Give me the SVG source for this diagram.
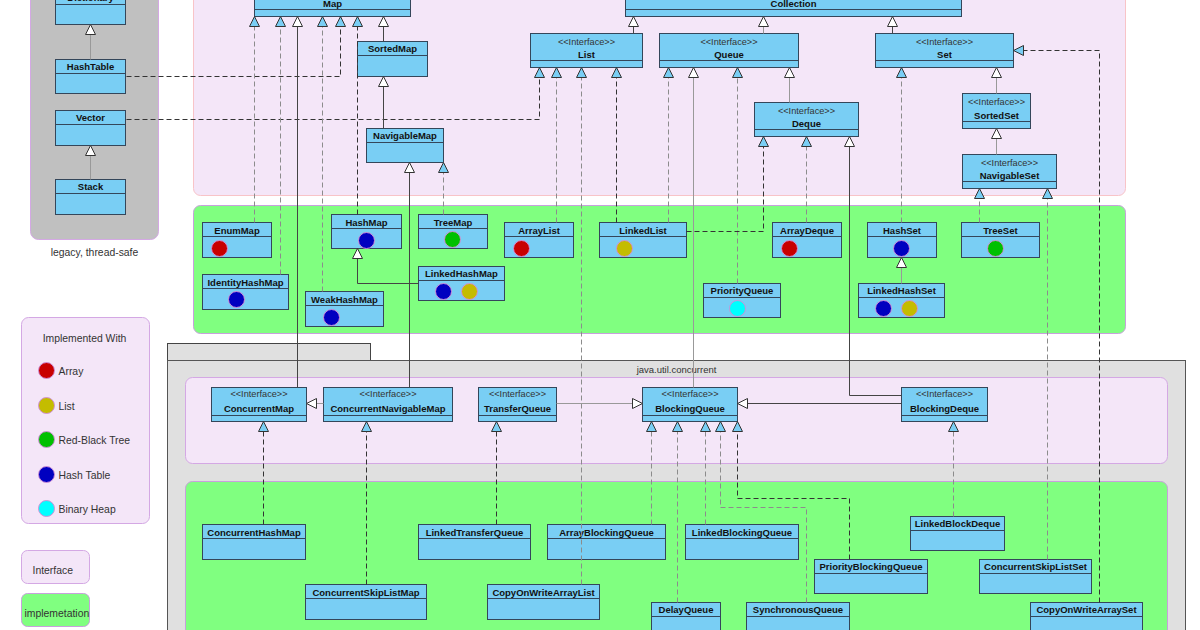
<svg xmlns="http://www.w3.org/2000/svg" width="1200" height="630" viewBox="0 0 1200 630">
<style>
.n{fill:#79cef4;stroke:#34465a;stroke-width:1}
.sp{stroke:#34465a;stroke-width:1}
.t{font-family:"Liberation Sans",Arial,sans-serif;font-weight:bold;font-size:9.5px;fill:#111;text-anchor:middle}
.s{font-family:"Liberation Sans",Arial,sans-serif;font-size:9.2px;fill:#333;text-anchor:middle}
.lg{font-family:"Liberation Sans",Arial,sans-serif;font-size:10.4px;fill:#333}
.c{stroke:#d090d8;stroke-width:1}
.cr{fill:#c80000}.co{fill:#c4bc00}.cg{fill:#00c000}.cb{fill:#0000c0}.cc{fill:#00ffff}
.e{fill:none;stroke-width:1}
.gd{stroke:#8c8c8c;stroke-dasharray:5,3}
.bd{stroke:#333;stroke-dasharray:5,3}
.gs{stroke:#999}
.bs{stroke:#444}
.real{marker-end:url(#mi)}
.gen{marker-end:url(#mg)}
</style>
<defs>
<marker id="mi" markerUnits="userSpaceOnUse" markerWidth="14" markerHeight="14" viewBox="-2 -2 14 14" refX="10" refY="5" orient="auto"><path d="M0,0 L10,5 L0,10 Z" fill="#79cef4" stroke="#333" stroke-width="1"/></marker>
<marker id="mg" markerUnits="userSpaceOnUse" markerWidth="14" markerHeight="14" viewBox="-2 -2 14 14" refX="10" refY="5" orient="auto"><path d="M0,0 L10,5 L0,10 Z" fill="#ffffff" stroke="#333" stroke-width="1"/></marker>
</defs>
<rect x="0" y="0" width="1200" height="630" fill="#ffffff"/>
<g transform="translate(0.5,0.5)">
<g id="areas">
<rect x="30" y="-20" width="128" height="259" rx="8" fill="#c0c0c0" stroke="#d4a8e4"/>
<text class="lg" x="94" y="255" text-anchor="middle">legacy, thread-safe</text>
<rect x="193" y="-20" width="932" height="215" rx="7" fill="#f4e6f8" stroke="#f8c4c8"/>
<rect x="193" y="205" width="932" height="128" rx="7" fill="#80ff80" stroke="#c8a0dc"/>
<rect x="167" y="343" width="203" height="17" fill="#e0e0e0" stroke="#444"/>
<rect x="167" y="360" width="1018" height="290" fill="#e0e0e0" stroke="#555"/>
<text x="676" y="372" text-anchor="middle" style="font-family:'Liberation Sans',Arial,sans-serif;font-size:9.5px;fill:#333">java.util.concurrent</text>
<rect x="185" y="377" width="982" height="86" rx="7" fill="#f4e6f8" stroke="#d4a8e4"/>
<rect x="185" y="481" width="982" height="170" rx="7" fill="#80ff80" stroke="#c8a0dc"/>
</g>
<g id="legend">
<rect x="21" y="317" width="128" height="206" rx="7" fill="#f4e6f8" stroke="#d4a8e4"/>
<text class="lg" x="84" y="341" text-anchor="middle">Implemented With</text>
<circle class="c cr" cx="46" cy="370" r="8"/><text class="lg" x="58" y="374">Array</text>
<circle class="c co" cx="46" cy="405" r="8"/><text class="lg" x="58" y="409">List</text>
<circle class="c cg" cx="46" cy="439" r="8"/><text class="lg" x="58" y="443">Red-Black Tree</text>
<circle class="c cb" cx="46" cy="474" r="8"/><text class="lg" x="58" y="478">Hash Table</text>
<circle class="c cc" cx="46" cy="508" r="8"/><text class="lg" x="58" y="512">Binary Heap</text>
<rect x="21" y="550" width="68" height="33" rx="6" fill="#f4e6f8" stroke="#d4a8e4"/>
<text class="lg" x="32" y="573">Interface</text>
<rect x="21" y="593" width="68" height="33" rx="6" fill="#80ff80" stroke="#c8a0dc"/>
<text class="lg" x="24" y="616">implemetation</text>
</g>

<g id="Dictionary"><rect class="n" x="55" y="-10" width="70" height="34"/><line class="sp" x1="55" y1="4" x2="125" y2="4"/><text class="t" x="90" y="0.5">Dictionary</text></g>
<g id="HashTable"><rect class="n" x="55" y="59" width="70" height="34"/><line class="sp" x1="55" y1="73" x2="125" y2="73"/><text class="t" x="90" y="69.5">HashTable</text></g>
<g id="Vector"><rect class="n" x="55" y="110" width="70" height="35"/><line class="sp" x1="55" y1="124" x2="125" y2="124"/><text class="t" x="90" y="120.5">Vector</text></g>
<g id="Stack"><rect class="n" x="55" y="179" width="70" height="35"/><line class="sp" x1="55" y1="193" x2="125" y2="193"/><text class="t" x="90" y="189.5">Stack</text></g>

<g id="Map"><rect class="n" x="254" y="-18" width="156" height="34"/><line class="sp" x1="254" y1="9" x2="410" y2="9"/><text class="t" x="332" y="6.5">Map</text></g>
<g id="Collection"><rect class="n" x="625" y="-18" width="336" height="34"/><line class="sp" x1="625" y1="9" x2="961" y2="9"/><text class="t" x="793" y="6.5">Collection</text></g>
<g id="SortedMap"><rect class="n" x="357" y="41" width="70" height="35"/><line class="sp" x1="357" y1="55" x2="427" y2="55"/><text class="t" x="392" y="51.5">SortedMap</text></g>
<g id="NavigableMap"><rect class="n" x="366" y="128" width="77" height="34"/><line class="sp" x1="366" y1="142" x2="443" y2="142"/><text class="t" x="404.5" y="138.5">NavigableMap</text></g>
<g id="List"><rect class="n" x="530" y="33" width="112" height="34"/><line class="sp" x1="530" y1="60" x2="642" y2="60"/><text class="s" x="586" y="44">&lt;&lt;Interface&gt;&gt;</text><text class="t" x="586" y="57.5">List</text></g>
<g id="Queue"><rect class="n" x="659" y="33" width="139" height="34"/><line class="sp" x1="659" y1="60" x2="798" y2="60"/><text class="s" x="728.5" y="44">&lt;&lt;Interface&gt;&gt;</text><text class="t" x="728.5" y="57.5">Queue</text></g>
<g id="Set"><rect class="n" x="875" y="33" width="138" height="34"/><line class="sp" x1="875" y1="60" x2="1013" y2="60"/><text class="s" x="944" y="44">&lt;&lt;Interface&gt;&gt;</text><text class="t" x="944" y="57.5">Set</text></g>
<g id="Deque"><rect class="n" x="754" y="102" width="104" height="34"/><line class="sp" x1="754" y1="129" x2="858" y2="129"/><text class="s" x="806" y="113">&lt;&lt;Interface&gt;&gt;</text><text class="t" x="806" y="126.5">Deque</text></g>
<g id="SortedSet"><rect class="n" x="962" y="93" width="68" height="35"/><line class="sp" x1="962" y1="121" x2="1030" y2="121"/><text class="s" x="996" y="104">&lt;&lt;Interface&gt;&gt;</text><text class="t" x="996" y="118">SortedSet</text></g>
<g id="NavigableSet"><rect class="n" x="962" y="154" width="94" height="34"/><line class="sp" x1="962" y1="181" x2="1056" y2="181"/><text class="s" x="1009" y="165">&lt;&lt;Interface&gt;&gt;</text><text class="t" x="1009" y="178.5">NavigableSet</text></g>

<g id="EnumMap"><rect class="n" x="202" y="222" width="69" height="35"/><line class="sp" x1="202" y1="236" x2="271" y2="236"/><text class="t" x="236.5" y="233.5">EnumMap</text><circle class="c cr" cx="219" cy="248" r="8"/></g>
<g id="IdentityHashMap"><rect class="n" x="202" y="274" width="86" height="35"/><line class="sp" x1="202" y1="288" x2="288" y2="288"/><text class="t" x="245" y="285.5">IdentityHashMap</text><circle class="c cb" cx="236" cy="299" r="8"/></g>
<g id="HashMap"><rect class="n" x="331" y="214" width="70" height="34"/><line class="sp" x1="331" y1="228" x2="401" y2="228"/><text class="t" x="366" y="225.5">HashMap</text><circle class="c cb" cx="366" cy="240" r="8"/></g>
<g id="WeakHashMap"><rect class="n" x="305" y="291" width="78" height="35"/><line class="sp" x1="305" y1="305" x2="383" y2="305"/><text class="t" x="344" y="302.5">WeakHashMap</text><circle class="c cb" cx="331" cy="317" r="8"/></g>
<g id="TreeMap"><rect class="n" x="418" y="214" width="69" height="34"/><line class="sp" x1="418" y1="228" x2="487" y2="228"/><text class="t" x="452.5" y="225.5">TreeMap</text><circle class="c cg" cx="452" cy="239" r="8"/></g>
<g id="LinkedHashMap"><rect class="n" x="418" y="266" width="86" height="34"/><line class="sp" x1="418" y1="280" x2="504" y2="280"/><text class="t" x="461" y="276.5">LinkedHashMap</text><circle class="c cb" cx="443" cy="291" r="8"/><circle class="c co" cx="469" cy="291" r="8"/></g>
<g id="ArrayList"><rect class="n" x="504" y="222" width="69" height="35"/><line class="sp" x1="504" y1="236" x2="573" y2="236"/><text class="t" x="538.5" y="233.5">ArrayList</text><circle class="c cr" cx="521" cy="248" r="8"/></g>
<g id="LinkedList"><rect class="n" x="599" y="222" width="87" height="35"/><line class="sp" x1="599" y1="236" x2="686" y2="236"/><text class="t" x="642.5" y="233.5">LinkedList</text><circle class="c co" cx="624" cy="248" r="8"/></g>
<g id="ArrayDeque"><rect class="n" x="772" y="222" width="69" height="35"/><line class="sp" x1="772" y1="236" x2="841" y2="236"/><text class="t" x="806.5" y="233.5">ArrayDeque</text><circle class="c cr" cx="789" cy="248" r="8"/></g>
<g id="PriorityQueue"><rect class="n" x="703" y="283" width="77" height="34"/><line class="sp" x1="703" y1="297" x2="780" y2="297"/><text class="t" x="741.5" y="293.5">PriorityQueue</text><circle class="c cc" cx="737" cy="308" r="8"/></g>
<g id="HashSet"><rect class="n" x="867" y="222" width="69" height="35"/><line class="sp" x1="867" y1="236" x2="936" y2="236"/><text class="t" x="901.5" y="233.5">HashSet</text><circle class="c cb" cx="901" cy="248" r="8"/></g>
<g id="TreeSet"><rect class="n" x="961" y="222" width="78" height="35"/><line class="sp" x1="961" y1="236" x2="1039" y2="236"/><text class="t" x="1000" y="233.5">TreeSet</text><circle class="c cg" cx="995" cy="248" r="8"/></g>
<g id="LinkedHashSet"><rect class="n" x="858" y="283" width="86" height="34"/><line class="sp" x1="858" y1="297" x2="944" y2="297"/><text class="t" x="901" y="293.5">LinkedHashSet</text><circle class="c cb" cx="883" cy="308" r="8"/><circle class="c co" cx="909" cy="308" r="8"/></g>

<g id="ConcurrentMap"><rect class="n" x="211" y="387" width="95" height="34"/><line class="sp" x1="211" y1="415" x2="306" y2="415"/><text class="s" x="258.5" y="396">&lt;&lt;Interface&gt;&gt;</text><text class="t" x="258.5" y="411.5">ConcurrentMap</text></g>
<g id="ConcurrentNavigableMap"><rect class="n" x="323" y="387" width="129" height="34"/><line class="sp" x1="323" y1="415" x2="452" y2="415"/><text class="s" x="387.5" y="396">&lt;&lt;Interface&gt;&gt;</text><text class="t" x="387.5" y="411.5">ConcurrentNavigableMap</text></g>
<g id="TransferQueue"><rect class="n" x="478" y="387" width="78" height="34"/><line class="sp" x1="478" y1="415" x2="556" y2="415"/><text class="s" x="517" y="396">&lt;&lt;Interface&gt;&gt;</text><text class="t" x="517" y="411.5">TransferQueue</text></g>
<g id="BlockingQueue"><rect class="n" x="642" y="387" width="95" height="34"/><line class="sp" x1="642" y1="415" x2="737" y2="415"/><text class="s" x="689.5" y="396">&lt;&lt;Interface&gt;&gt;</text><text class="t" x="689.5" y="411.5">BlockingQueue</text></g>
<g id="BlockingDeque"><rect class="n" x="901" y="387" width="86" height="34"/><line class="sp" x1="901" y1="415" x2="987" y2="415"/><text class="s" x="944" y="396">&lt;&lt;Interface&gt;&gt;</text><text class="t" x="944" y="411.5">BlockingDeque</text></g>

<g id="ConcurrentHashMap"><rect class="n" x="202" y="524" width="103" height="35"/><line class="sp" x1="202" y1="538" x2="305" y2="538"/><text class="t" x="253.5" y="535.5">ConcurrentHashMap</text></g>
<g id="ConcurrentSkipListMap"><rect class="n" x="305" y="584" width="121" height="35"/><line class="sp" x1="305" y1="598" x2="426" y2="598"/><text class="t" x="365.5" y="595.5">ConcurrentSkipListMap</text></g>
<g id="LinkedTransferQueue"><rect class="n" x="418" y="524" width="112" height="35"/><line class="sp" x1="418" y1="538" x2="530" y2="538"/><text class="t" x="474" y="535.5">LinkedTransferQueue</text></g>
<g id="ArrayBlockingQueue"><rect class="n" x="547" y="524" width="118" height="35"/><line class="sp" x1="547" y1="538" x2="665" y2="538"/><text class="t" x="606" y="535.5">ArrayBlockingQueue</text></g>
<g id="CopyOnWriteArrayList"><rect class="n" x="487" y="584" width="112" height="35"/><line class="sp" x1="487" y1="598" x2="599" y2="598"/><text class="t" x="543" y="595.5">CopyOnWriteArrayList</text></g>
<g id="LinkedBlockingQueue"><rect class="n" x="685" y="524" width="113" height="35"/><line class="sp" x1="685" y1="538" x2="798" y2="538"/><text class="t" x="741.5" y="535.5">LinkedBlockingQueue</text></g>
<g id="DelayQueue"><rect class="n" x="651" y="602" width="69" height="35"/><line class="sp" x1="651" y1="616" x2="720" y2="616"/><text class="t" x="685.5" y="612.5">DelayQueue</text></g>
<g id="SynchronousQueue"><rect class="n" x="746" y="602" width="103" height="35"/><line class="sp" x1="746" y1="616" x2="849" y2="616"/><text class="t" x="797.5" y="612.5">SynchronousQueue</text></g>
<g id="PriorityBlockingQueue"><rect class="n" x="814" y="559" width="113" height="34"/><line class="sp" x1="814" y1="573" x2="927" y2="573"/><text class="t" x="870.5" y="569.5">PriorityBlockingQueue</text></g>
<g id="LinkedBlockDeque"><rect class="n" x="910" y="516" width="94" height="34"/><line class="sp" x1="910" y1="530" x2="1004" y2="530"/><text class="t" x="957" y="526.5">LinkedBlockDeque</text></g>
<g id="ConcurrentSkipListSet"><rect class="n" x="979" y="559" width="112" height="34"/><line class="sp" x1="979" y1="573" x2="1091" y2="573"/><text class="t" x="1035" y="569.5">ConcurrentSkipListSet</text></g>
<g id="CopyOnWriteArraySet"><rect class="n" x="1030" y="602" width="112" height="35"/><line class="sp" x1="1030" y1="616" x2="1142" y2="616"/><text class="t" x="1086" y="612.5">CopyOnWriteArraySet</text></g>

<g id="connectors">
<path class="e gs gen" d="M90,59 V24"/>
<path class="e gs gen" d="M90,179 V145"/>
<path class="e bd real" d="M126,76 H340 V16"/>
<path class="e bd real" d="M126,119 H539 V67"/>
<path class="e bs gen" d="M383,41 V16"/>
<path class="e bs gen" d="M383,128 V76"/>
<path class="e gd real" d="M254,222 V16"/>
<path class="e gd real" d="M280,274 V16"/>
<path class="e bs gen" d="M297,387 V16"/>
<path class="e gd real" d="M322,291 V16"/>
<path class="e bd real" d="M357,214 V16"/>
<path class="e bs gen" d="M418,283 H357 V248"/>
<path class="e gd real" d="M443,214 V162"/>
<path class="e bs gen" d="M409,387 V162"/>
<path class="e bs gen" d="M633,33 V16"/>
<path class="e gs gen" d="M763,33 V16"/>
<path class="e bs gen" d="M892,33 V16"/>
<path class="e gd real" d="M556,222 V67"/>
<path class="e gd real" d="M581,584 V67"/>
<path class="e bd real" d="M616,222 V67"/>
<path class="e gd real" d="M668,222 V67"/>
<path class="e gs gen" d="M693,387 V67"/>
<path class="e gd real" d="M737,283 V67"/>
<path class="e gs gen" d="M789,102 V67"/>
<path class="e bd real" d="M686,231 H763 V136"/>
<path class="e gd real" d="M806,222 V136"/>
<path class="e bs gen" d="M901,395 H849 V136"/>
<path class="e gd real" d="M901,222 V67"/>
<path class="e gs gen" d="M996,93 V67"/>
<path class="e gs gen" d="M996,154 V128"/>
<path class="e gd real" d="M979,222 V188"/>
<path class="e gd real" d="M1047,559 V188"/>
<path class="e bd real" d="M1099,602 V50 H1013"/>
<path class="e gs gen" d="M901,283 V257"/>
<path class="e gs gen" d="M323,403 H306"/>
<path class="e gs gen" d="M556,403 H642"/>
<path class="e bs gen" d="M901,403 H737"/>
<path class="e bd real" d="M263,524 V421"/>
<path class="e bd real" d="M366,584 V421"/>
<path class="e bd real" d="M496,524 V421"/>
<path class="e gd real" d="M651,524 V421"/>
<path class="e gd real" d="M677,602 V421"/>
<path class="e gd real" d="M705,524 V421"/>
<path class="e gd real" d="M806,602 V507 H720 V421"/>
<path class="e bd real" d="M849,559 V498 H737 V421"/>
<path class="e gd real" d="M953,516 V421"/>
</g>
</g>
</svg>
